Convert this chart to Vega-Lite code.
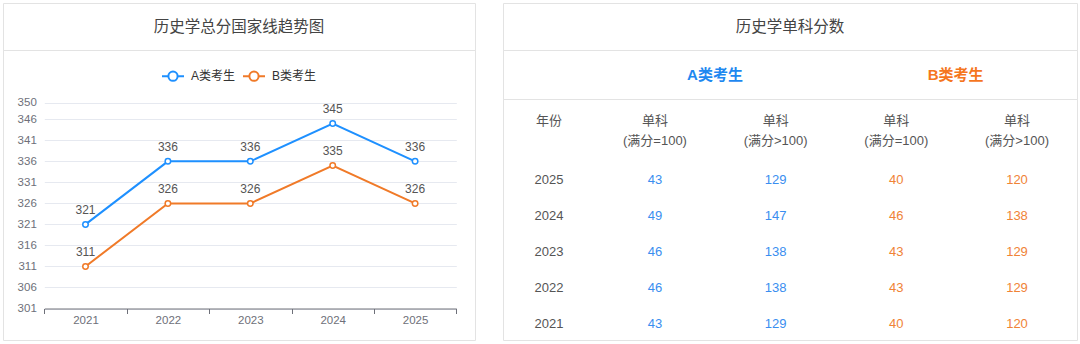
{
  "$schema": "https://vega.github.io/schema/vega-lite/v6.json",
  "padding": {"left": 2, "top": 2, "right": 0, "bottom": 0},
  "autosize": {"type": "pad"},
  "background": "#ffffff",
  "config": {
    "font": "Liberation Sans, Noto Sans CJK SC, sans-serif",
    "view": {"stroke": "#e3e3e3", "strokeWidth": 1}
  },
  "datasets": {
    "trend": [
      {"year": "2021", "group": "A类考生", "score": 321},
      {"year": "2022", "group": "A类考生", "score": 336},
      {"year": "2023", "group": "A类考生", "score": 336},
      {"year": "2024", "group": "A类考生", "score": 345},
      {"year": "2025", "group": "A类考生", "score": 336},
      {"year": "2021", "group": "B类考生", "score": 311},
      {"year": "2022", "group": "B类考生", "score": 326},
      {"year": "2023", "group": "B类考生", "score": 326},
      {"year": "2024", "group": "B类考生", "score": 335},
      {"year": "2025", "group": "B类考生", "score": 326}
    ],
    "scores": [
      {"year": "2025", "col": "A1", "score": 43},
      {"year": "2025", "col": "A2", "score": 129},
      {"year": "2025", "col": "B1", "score": 40},
      {"year": "2025", "col": "B2", "score": 120},
      {"year": "2024", "col": "A1", "score": 49},
      {"year": "2024", "col": "A2", "score": 147},
      {"year": "2024", "col": "B1", "score": 46},
      {"year": "2024", "col": "B2", "score": 138},
      {"year": "2023", "col": "A1", "score": 46},
      {"year": "2023", "col": "A2", "score": 138},
      {"year": "2023", "col": "B1", "score": 43},
      {"year": "2023", "col": "B2", "score": 129},
      {"year": "2022", "col": "A1", "score": 46},
      {"year": "2022", "col": "A2", "score": 138},
      {"year": "2022", "col": "B1", "score": 43},
      {"year": "2022", "col": "B2", "score": 129},
      {"year": "2021", "col": "A1", "score": 43},
      {"year": "2021", "col": "A2", "score": 129},
      {"year": "2021", "col": "B1", "score": 40},
      {"year": "2021", "col": "B2", "score": 120}
    ],
    "heads": [
      {"col": "A1", "label": "单科\n(满分=100)"},
      {"col": "A2", "label": "单科\n(满分>100)"},
      {"col": "B1", "label": "单科\n(满分=100)"},
      {"col": "B2", "label": "单科\n(满分>100)"}
    ]
  },
  "spacing": 26,
  "resolve": {"scale": {"color": "independent", "x": "independent", "y": "independent"}, "legend": {"color": "independent"}},
  "hconcat": [
    {
      "spacing": 0,
      "bounds": "flush",
      "resolve": {"scale": {"color": "independent", "x": "independent", "y": "independent"}, "legend": {"color": "independent"}},
      "vconcat": [
        {
          "width": 472,
          "height": 47,
          "view": {"stroke": "#e3e3e3", "strokeWidth": 1},
          "data": {"values": [{"t": "历史学总分国家线趋势图"}]},
          "mark": {"type": "text", "fontSize": 15.5, "color": "#444444", "font": "Noto Sans CJK SC"},
          "encoding": {"text": {"field": "t"}}
        },
        {
          "width": 472,
          "height": 290,
          "data": {"name": "trend"},
          "encoding": {
            "x": {
              "field": "year", "type": "nominal",
              "scale": {"type": "band", "domain": ["2021", "2022", "2023", "2024", "2025"], "range": [41.3, 453.3], "paddingInner": 0, "paddingOuter": 0},
              "axis": {"title": null, "orient": "bottom", "offset": -31.5, "tickBand": "extent", "domainColor": "#6e7079", "tickColor": "#6e7079", "tickSize": 5, "labelColor": "#6e7079", "labelFontSize": 11.5, "labelPadding": 1, "labelAngle": 0, "grid": false}
            },
            "y": {
              "field": "score", "type": "quantitative",
              "scale": {"domain": [301, 350], "range": [258.5, 52.5], "zero": false, "nice": false},
              "axis": {"title": null, "orient": "left", "offset": -41.3, "values": [301, 306, 311, 316, 321, 326, 331, 336, 341, 346, 350], "domain": false, "ticks": false, "tickSize": 0, "labelPadding": 8, "labelColor": "#6e7079", "labelFontSize": 11.5, "grid": true, "gridColor": "#e6e9f0", "gridWidth": 1}
            },
            "color": {
              "field": "group", "type": "nominal",
              "scale": {"domain": ["A类考生", "B类考生"], "range": ["#1e90ff", "#f07a28"]},
              "legend": {
                "orient": "none", "legendX": 158, "legendY": 14, "direction": "horizontal", "title": null,
                "symbolType": "M-1,0H-0.42M0.42,0H1M-0.42,0A0.42,0.42,0,1,1,0.42,0A0.42,0.42,0,1,1,-0.42,0",
                "symbolSize": 484, "symbolStrokeWidth": 2, "symbolFillColor": "#ffffff",
                "labelFontSize": 12, "labelColor": "#333333", "labelOffset": 6, "columnPadding": 3,
                "labelFont": "Liberation Sans, Noto Sans CJK SC",
                "encode": {"symbols": {"update": {"fill": {"value": "#ffffff"}, "strokeWidth": {"value": 2}}}}
              }
            }
          },
          "layer": [
            {"mark": {"type": "line", "strokeWidth": 2}},
            {"mark": {"type": "point", "filled": false, "fill": "#ffffff", "size": 30, "strokeWidth": 1.5, "opacity": 1}},
            {
              "mark": {"type": "text", "dy": -14.5, "fontSize": 12},
              "encoding": {"text": {"field": "score"}, "color": {"value": "#555555"}}
            }
          ]
        }
      ]
    },
    {
      "spacing": 0,
      "bounds": "flush",
      "resolve": {"scale": {"color": "independent", "x": "independent", "y": "independent"}},
      "vconcat": [
        {
          "width": 574,
          "height": 47,
          "view": {"stroke": "#e3e3e3", "strokeWidth": 1},
          "data": {"values": [{"t": "历史学单科分数"}]},
          "mark": {"type": "text", "fontSize": 15.5, "color": "#444444", "font": "Noto Sans CJK SC"},
          "encoding": {"text": {"field": "t"}}
        },
        {
          "width": 574,
          "height": 49,
          "data": {"values": [{"g": "A类考生"}, {"g": "B类考生"}]},
          "mark": {"type": "text", "fontSize": 15, "fontWeight": "bold"},
          "encoding": {
            "x": {"field": "g", "type": "nominal", "scale": {"type": "point", "padding": 0, "domain": ["A类考生", "B类考生"], "range": [212, 452.7]}, "axis": null},
            "text": {"field": "g"},
            "color": {"field": "g", "type": "nominal", "scale": {"domain": ["A类考生", "B类考生"], "range": ["#1e88f0", "#f5761e"]}, "legend": null}
          }
        },
        {
          "width": 574,
          "height": 241,
          "encoding": {
            "x": {"field": "col", "type": "nominal", "scale": {"type": "point", "padding": 0, "domain": ["年份", "A1", "A2", "B1", "B2"], "range": [31.3, 514]}, "axis": null},
            "y": {"field": "year", "type": "ordinal", "scale": {"type": "point", "padding": 0, "domain": ["header", "2025", "2024", "2023", "2022", "2021"], "range": [44.5, 224.5]}, "axis": null}
          },
          "layer": [
            {
              "data": {"name": "scores"},
              "transform": [{"filter": "datum.col == 'A1'"}],
              "mark": {"type": "text", "fontSize": 13, "color": "#555555", "dx": 14.7},
              "encoding": {"x": {"datum": "年份"}, "text": {"field": "year"}}
            },
            {
              "data": {"name": "scores"},
              "mark": {"type": "text", "fontSize": 13},
              "encoding": {
                "text": {"field": "score"},
                "color": {"field": "col", "type": "nominal", "scale": {"domain": ["A1", "A2", "B1", "B2"], "range": ["#3a8ef0", "#3a8ef0", "#f08336", "#f08336"]}, "legend": null}
              }
            },
            {
              "data": {"name": "heads"},
              "mark": {"type": "text", "fontSize": 13, "color": "#555555", "dy": -22.5, "lineBreak": "\n", "lineHeight": 20},
              "encoding": {"y": {"datum": "header"}, "text": {"field": "label"}}
            },
            {
              "data": {"values": [{"label": "年份"}]},
              "mark": {"type": "text", "fontSize": 13, "color": "#555555", "dx": 14.7, "dy": -22.5},
              "encoding": {"x": {"datum": "年份"}, "y": {"datum": "header"}, "text": {"field": "label"}}
            }
          ]
        }
      ]
    }
  ]
}
